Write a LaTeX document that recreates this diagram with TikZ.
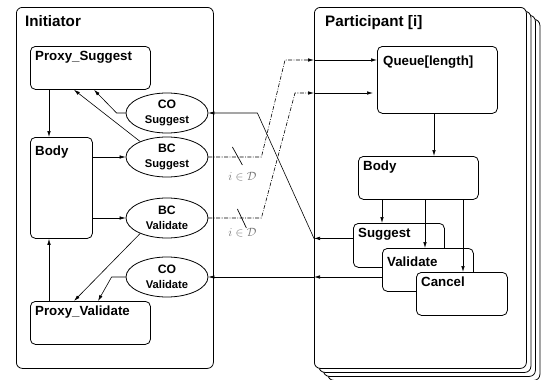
\documentclass[tikz,border=0pt]{standalone}
\usepackage{fontspec}
\setmainfont{Liberation Sans}
\usetikzlibrary{arrows.meta,shapes.geometric,calc}
\begin{document}
\begin{tikzpicture}[x=1pt,y=-1pt,
 outer/.style={draw,line width=0.8pt,rounded corners=6pt,fill=white,anchor=north west,inner sep=0pt,minimum width=212pt,minimum height=361pt},
 inbox/.style={draw,line width=0.8pt,rounded corners=5pt,fill=white,anchor=north west,inner sep=0pt},
 hdr/.style={font=\fontsize{15.2}{18}\selectfont\bfseries,anchor=base west,inner sep=0pt},
 lbl/.style={font=\fontsize{13.3}{16}\selectfont\bfseries,anchor=base west,inner sep=0pt},
 ell/.style={draw,ellipse,line width=0.8pt,minimum width=82pt,minimum height=40pt,inner sep=0pt,align=center,font=\fontsize{11.2}{15}\selectfont\bfseries,fill=white},
 arr/.style={line width=0.6pt,-{Latex[length=6pt,width=3.5pt]}},
 dd/.style={arr,line width=0.6pt,dash pattern=on 4pt off 1.5pt on 0.8pt off 1.5pt},
 slash/.style={line width=0.7pt},
 mlbl/.style={text=black!55,font=\fontsize{12}{14}\selectfont,inner sep=0pt}
]
\useasboundingbox (0,0) rectangle (542,380);

% outer boxes
\node[outer,minimum width=197pt] (init) at (16,7) {};
\node[outer] (pb3) at (327.5,19) {};
\node[outer] (pb2) at (323,15) {};
\node[outer] (pb1) at (318.5,11) {};
\node[outer] (part) at (314,7) {};
\node[hdr] (initT) at (25,26.5) {Initiator};
\node[hdr] (partT) at (325,26.5) {Participant [i]};

% initiator boxes
\node[inbox,minimum width=120pt,minimum height=43pt] (ps) at (30,46) {};
\node[inbox,minimum width=62pt,minimum height=101pt] (bl) at (30,137) {};
\node[inbox,minimum width=120pt,minimum height=43pt] (pv) at (30,301) {};
\node[lbl] (psT) at (35,60) {Proxy\_Suggest};
\node[lbl] (blT) at (35,155.7) {Body};
\node[lbl] (pvT) at (35,315) {Proxy\_Validate};

% ellipses
\node[ell] (cos) at (167,113) {{\fontsize{12.2}{15}\selectfont CO}\\Suggest};
\node[ell] (bcs) at (167,157) {{\fontsize{12.2}{15}\selectfont BC}\\Suggest};
\node[ell] (bcv) at (167,218) {{\fontsize{12.2}{15}\selectfont BC}\\Validate};
\node[ell] (cov) at (167,277) {{\fontsize{12.2}{15}\selectfont CO}\\Validate};

% participant boxes
\node[inbox,minimum width=120pt,minimum height=67pt] (q) at (377,46) {};
\node[inbox,minimum width=120pt,minimum height=43pt] (br) at (358,156) {};
\node[inbox,minimum width=91pt,minimum height=44pt] (sg) at (353,223) {};
\node[inbox,minimum width=91pt,minimum height=43pt] (va) at (382,248) {};
\node[inbox,minimum width=91pt,minimum height=43pt] (ca) at (416,272) {};
\node[lbl] (qT) at (383,65) {Queue[length]};
\node[lbl] (brT) at (363,170.7) {Body};
\node[lbl] (sgT) at (358,237.3) {Suggest};
\node[lbl] (vaT) at (387,266.7) {Validate};
\node[lbl] (caT) at (421,286) {Cancel};

% initiator connectors
\draw[arr] ([xshift=19pt]ps.south west) -- ([xshift=19pt]bl.north west);
\draw[arr] ([xshift=19pt]pv.north west) -- ([xshift=19pt]bl.south west);
\draw[arr] (bcs.west -| bl.east) -- (bcs.west);
\draw[arr] (bcv.west -| bl.east) -- (bcv.west);
\draw[arr] (cos.west) -- ++(-9,0) -- ([xshift=64pt]ps.south west);
\draw[arr] (bcs.150) -- ([xshift=44pt]ps.south west);
\draw[arr] (bcv.210) -- ([xshift=44pt]pv.north west);
\draw[arr] (cov.west) -- ++(-14,0) -- ([xshift=68pt]pv.north west);

% participant connectors
\draw[arr] ([xshift=57pt]q.south west) -- ([xshift=76pt]br.north west);
\coordinate (s1) at ([xshift=29pt]sg.north west);
\coordinate (s2) at ([xshift=43pt]va.north west);
\coordinate (s3) at ([xshift=47pt]ca.north west);
\draw[arr] (s1 |- br.south) -- (s1);
\draw[arr] (s2 |- br.south) -- (s2);
\draw[arr] (s3 |- br.south) -- (s3);

% outgoing
\coordinate (sgo) at ([yshift=7pt]sg.west);
\draw[arr] (sgo) -- (sgo -| part.west);
\draw[arr] (sgo -| part.west) -- ([xshift=49pt]cos.east) -- (cos.east);
\draw[arr] (cov.east -| va.west) -- (cov.east -| part.west);
\draw[arr] (cov.east -| part.west) -- (cov.east);

% incoming to queue
\coordinate (q1) at ([yshift=-14pt]q.north west);
\coordinate (q2) at ([yshift=-47pt]q.north west);
\coordinate (e1) at (q1 -| part.west);
\coordinate (e2) at (q2 -| part.west);
\draw[dd] (bcs.east) -- ++(53,0) -- ([xshift=-29pt]e1) -- (e1);
\draw[dd] (bcv.east) -- ++(53,0) -- ([xshift=-19pt]e2) -- (e2);
\draw[arr] (e1) -- (q1);
\draw[arr,shorten >=4pt] (e2) -- (q2);

% slashes and labels
\draw[slash] ([shift={(24pt,10pt)}]bcs.east) -- ([shift={(34pt,-8pt)}]bcs.east);
\draw[slash] ([shift={(29pt,9pt)}]bcv.east) -- ([shift={(38pt,-10pt)}]bcv.east);
\node[mlbl] (d1) at ([shift={(34pt,-20pt)}]bcs.east) {$i\in\mathcal{D}$};
\node[mlbl] (d2) at ([shift={(34pt,-15pt)}]bcv.east) {$i\in\mathcal{D}$};
\end{tikzpicture}
\end{document}
